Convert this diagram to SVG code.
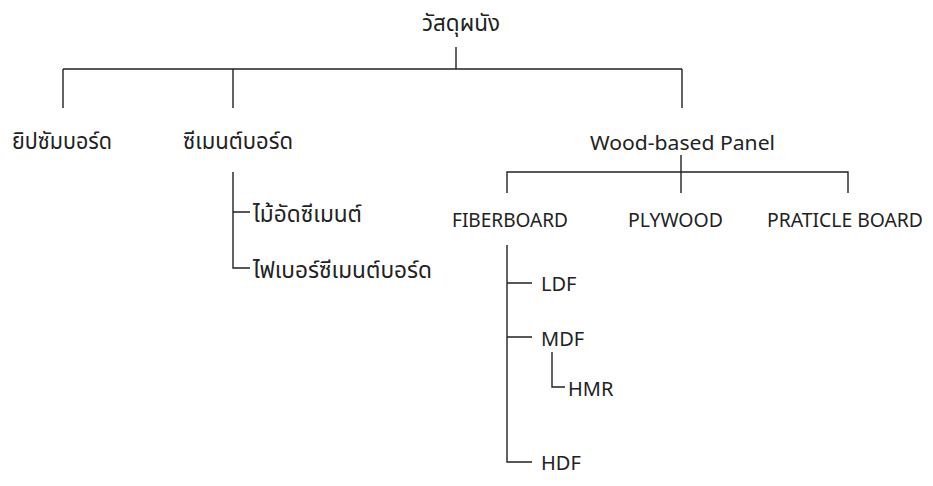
<svg xmlns="http://www.w3.org/2000/svg" width="933" height="486" viewBox="0 0 933 486">
<style>
text{font-family:"Noto Sans Thai","Noto Sans","Open Sans","DejaVu Sans",sans-serif;font-size:20px;fill:#222;}
.th{font-size:23px}
.c{text-anchor:middle}
.ln{stroke:#222;stroke-width:1.4;fill:none}
</style>
<rect width="933" height="486" fill="#fff"/>
<g id="connectors">
<path class="ln" d="M456 47V69M63 69H682M63 69V108M233 69V108M682 69V108"/>
<path class="ln" d="M233 172V268H250M233 212H250"/>
<path class="ln" d="M681 155V193M507 193V172H848V193"/>
<path class="ln" d="M507 245V462H532M507 283H532M507 337H532"/>
<path class="ln" d="M552 352V387H565"/>
</g>
<g id="root"><text class="th" x="422" y="31" textLength="78" lengthAdjust="spacingAndGlyphs">วัสดุผนัง</text></g>
<g id="gypsum"><text class="th" x="12" y="149" textLength="100" lengthAdjust="spacingAndGlyphs">ยิปซัมบอร์ด</text></g>
<g id="cementboard"><text class="th" x="183" y="149" textLength="110" lengthAdjust="spacingAndGlyphs">ซีเมนต์บอร์ด</text></g>
<g id="woodpanel"><text x="590" y="150" textLength="185" lengthAdjust="spacingAndGlyphs">Wood-based Panel</text></g>
<g id="cementply"><text class="th" x="253" y="222" textLength="109" lengthAdjust="spacingAndGlyphs">ไม้อัดซีเมนต์</text></g>
<g id="fibercement"><text class="th" x="253" y="278" textLength="179" lengthAdjust="spacingAndGlyphs">ไฟเบอร์ซีเมนต์บอร์ด</text></g>
<g id="fiberboard"><text x="452" y="227" textLength="116" lengthAdjust="spacingAndGlyphs">FIBERBOARD</text></g>
<g id="plywood"><text x="628" y="227" textLength="95" lengthAdjust="spacingAndGlyphs">PLYWOOD</text></g>
<g id="particle"><text x="767" y="227" textLength="156" lengthAdjust="spacingAndGlyphs">PRATICLE BOARD</text></g>
<g id="ldf"><text x="541" y="291">LDF</text></g>
<g id="mdf"><text x="541" y="346">MDF</text></g>
<g id="hmr"><text x="568" y="396">HMR</text></g>
<g id="hdf"><text x="541" y="470">HDF</text></g>
</svg>
